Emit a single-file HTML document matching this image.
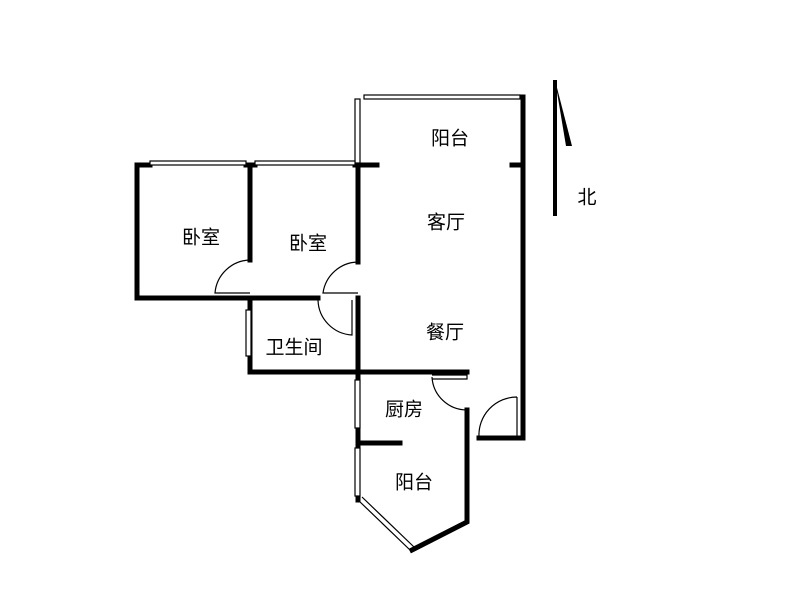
<!DOCTYPE html>
<html><head><meta charset="utf-8"><style>
body{margin:0;background:#fff;width:800px;height:600px;overflow:hidden}
svg text{font-family:"Liberation Sans","Noto Sans CJK SC",sans-serif;font-size:19px;fill:#000;text-anchor:middle;dominant-baseline:central}
</style></head><body>
<svg width="800" height="600" viewBox="0 0 800 600">
<g stroke="#000" stroke-width="5" fill="none" stroke-linecap="square">
<path d="M150 165H137V298H318"/>
<path d="M246 165H255M250 165V260M250 298V372H467"/>
<path d="M355 165H358V262M358 298V372"/>
<path d="M523 97V438H479"/>
<path d="M358 165H377M512 165H523"/>
<path d="M358 372V500M358 443H400"/>
<path d="M467 410V522L412 550"/>
</g>
<g stroke="#000" stroke-width="1.2" fill="#fff">
<rect x="364" y="95" width="156" height="4"/>
<rect x="355" y="99" width="5" height="64"/>
<rect x="150" y="161" width="96" height="4"/>
<rect x="255" y="161" width="100" height="4"/>
<rect x="246" y="310" width="5" height="46"/>
<rect x="355" y="380" width="5" height="48"/>
<rect x="355" y="448" width="5" height="48"/>
</g>
<g stroke="#000" stroke-width="1.2" fill="none">
<path d="M358 500L410 550M362 497L414 547"/>
<path d="M250 260A36 36 0 0 0 215 293H250"/>
<path d="M358 262A36 36 0 0 0 323 293H358"/>
<path d="M318 300A36 36 0 0 0 352 335V300"/>
<path d="M432 377A35 35 0 0 0 467 410M432 375H467V379H432"/>
<path d="M517 397A38 38 0 0 0 479 437H517V397"/>
</g>
<line x1="555" y1="80" x2="555" y2="216" stroke="#000" stroke-width="4"/>
<path d="M555 80L572 146L566 146Z" fill="#000"/>
<text x="587" y="198">北</text>
<text x="450" y="139">阳台</text>
<text x="446" y="223">客厅</text>
<text x="201" y="238">卧室</text>
<text x="308" y="244">卧室</text>
<text x="294" y="348">卫生间</text>
<text x="445" y="333">餐厅</text>
<text x="404" y="410">厨房</text>
<text x="414" y="483">阳台</text>
</svg>
</body></html>
